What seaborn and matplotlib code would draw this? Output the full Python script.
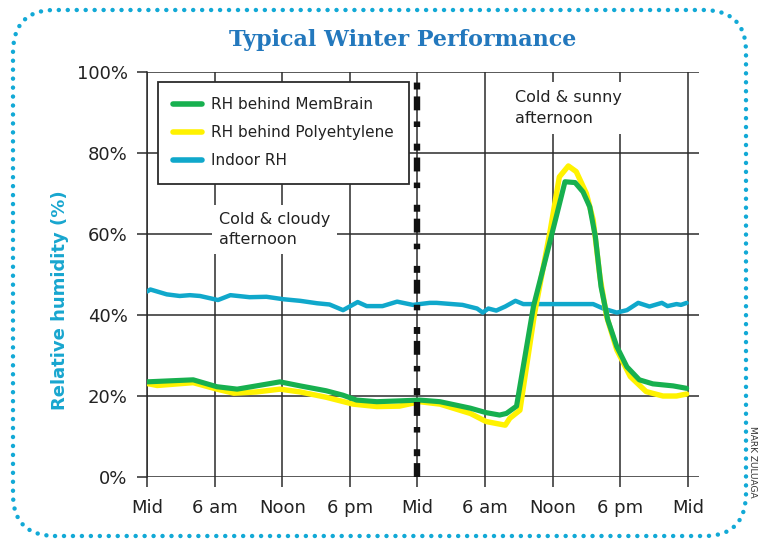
import numpy as np
import matplotlib.pyplot as plt
import pandas as pd
import seaborn as sb
from matplotlib.patches import FancyBboxPatch
from matplotlib.lines import Line2D

# hours from first midnight, relative humidity in %
indoor_h = [0, 0.3, 1.75, 2.9, 3.8, 4.7, 6.3, 7.4, 9.1, 10.6, 12.1, 13.6, 15.1, 16.2,
            17.4, 18.7, 19.5, 20.9, 22.2, 23.6, 25.1, 25.7, 28.0, 29.3, 29.8, 30.3,
            31.0, 31.8, 32.7, 33.4, 36.0, 39.6, 40.5, 41.7, 42.6, 43.6, 44.6, 45.7,
            46.2, 47.0, 47.4, 47.9]
indoor_rh = [45.8, 46.3, 45.1, 44.7, 44.9, 44.7, 43.7, 44.9, 44.4, 44.5, 43.9, 43.5,
             42.9, 42.6, 41.2, 43.2, 42.2, 42.2, 43.3, 42.5, 43.0, 43.0, 42.5, 41.6,
             40.6, 41.6, 41.1, 42.1, 43.5, 42.7, 42.7, 42.7, 41.6, 40.6, 41.2, 43.0,
             42.1, 43.0, 42.2, 42.7, 42.5, 43.0]

membrain_h = [0, 4.1, 6.2, 8.0, 9.7, 11.8, 13.6, 15.9, 17.4, 18.6, 20.4, 22.4, 24.2,
              26.0, 28.7, 30.1, 31.3, 31.9, 32.8, 34.3, 35.5, 36.4, 37.1, 38.0, 38.7,
              39.3, 39.8, 40.3, 40.9, 41.7, 42.6, 43.7, 44.9, 46.7, 47.9]
membrain_rh = [23.5, 24.0, 22.3, 21.7, 22.5, 23.5, 22.5, 21.3, 20.2, 19.0, 18.6, 18.8,
               19.0, 18.6, 17.0, 15.9, 15.3, 15.7, 17.5, 42.1, 55.2, 65.1, 72.9, 72.7,
               70.4, 66.7, 59.3, 47.0, 38.8, 32.2, 27.2, 24.0, 23.0, 22.5, 21.9]

poly_h = [0, 0.9, 4.1, 6.2, 7.7, 9.7, 11.8, 13.6, 15.9, 18.3, 20.4, 22.4, 24.2, 26.0,
          28.7, 30.1, 31.8, 32.2, 33.1, 34.4, 35.8, 36.6, 37.4, 38.1, 39.0, 39.6,
          40.2, 40.8, 41.7, 42.9, 44.3, 45.8, 47.0, 47.9]
poly_rh = [23.1, 22.6, 23.3, 21.7, 20.7, 21.0, 21.7, 21.0, 19.7, 18.0, 17.4, 17.5,
           18.6, 18.0, 15.7, 13.7, 12.8, 14.5, 16.5, 40.4, 61.0, 74.1, 76.8, 75.4,
           70.0, 63.5, 49.5, 39.6, 31.4, 24.8, 21.1, 20.0, 20.0, 20.5]

tick_hours = [0, 6, 12, 18, 24, 30, 36, 42, 48]
tick_names = ['Mid', '6 am', 'Noon', '6 pm', 'Mid', '6 am', 'Noon', '6 pm', 'Mid']
labels = ['RH behind MemBrain', 'RH behind Polyehtylene', 'Indoor RH']
colors = ['#17b04f', '#fff200', '#10a8cb']

sb.set_style('white')
plt.rcParams['font.family'] = ['DejaVu Sans']
plt.rcParams['lines.scale_dashes'] = False

fig = plt.figure(figsize=(7.59, 5.43), dpi=100)
ax = fig.add_axes([0.1937, 0.1215, 0.7273, 0.7459])

indoor = pd.DataFrame({'hour': indoor_h, 'rh': indoor_rh})
membrain = pd.DataFrame({'hour': membrain_h, 'rh': membrain_rh})
poly = pd.DataFrame({'hour': poly_h, 'rh': poly_rh})

sb.lineplot(x='hour', y='rh', data=indoor, color=colors[2], lw=3.2,
            sort=False, estimator=None, ax=ax, zorder=4)
sb.lineplot(x='hour', y='rh', data=poly, color=colors[1], lw=3.9,
            sort=False, estimator=None, ax=ax, zorder=5)
sb.lineplot(x='hour', y='rh', data=membrain, color=colors[0], lw=3.7,
            sort=False, estimator=None, ax=ax, zorder=6)

ax.axvline(24, color='#111111', lw=4.6, zorder=7,
           dashes=(10, 5, 5, 12, 4, 8))

ax.set_xlim(0, 49)
ax.set_ylim(0, 100)
ax.set_xticks(tick_hours)
ax.set_xticklabels(tick_names)
ax.set_yticks([0, 20, 40, 60, 80, 100])
ax.set_yticklabels(['0%', '20%', '40%', '60%', '80%', '100%'])
ax.grid(True, color='#2b2b2b', lw=1.1, zorder=1)
ax.set_axisbelow(True)
for s in ['top', 'right', 'bottom']:
    ax.spines[s].set_visible(False)
ax.spines['left'].set_color('#2b2b2b')
ax.spines['left'].set_linewidth(1.1)
ax.tick_params(axis='both', direction='out', length=7, width=1.1, color='#2b2b2b',
               labelsize=13, labelcolor='#222222', left=True, bottom=True)
ax.tick_params(axis='y', pad=7)
ax.tick_params(axis='x', pad=9)
ax.set_xlabel('')
ax.set_ylabel('')

ax.text(6.4, 65.5, 'Cold & cloudy\nafternoon', fontsize=11.5, color='#222222',
        va='top', ha='left', linespacing=1.45, zorder=3,
        bbox=dict(facecolor='white', edgecolor='none', pad=5))
ax.text(32.7, 95.5, 'Cold & sunny\nafternoon', fontsize=11.5, color='#222222',
        va='top', ha='left', linespacing=1.45, zorder=3,
        bbox=dict(facecolor='white', edgecolor='none', pad=6))

handles = [Line2D([], [], color=c, lw=4) for c in colors]
leg = ax.legend(handles, labels, loc='upper left', bbox_to_anchor=(0.02, 0.975),
                borderaxespad=0, fontsize=11, frameon=True, fancybox=False,
                framealpha=1, edgecolor='#2b2b2b', handlelength=1.9,
                handletextpad=0.55, labelspacing=0.85, borderpad=1.0)
leg.get_frame().set_linewidth(1.3)
leg.set_zorder(10)
for t in leg.get_texts():
    t.set_color('#222222')

fig.text(0.53, 0.926, 'Typical Winter Performance', fontsize=16, fontweight='bold',
         color='#2378bd', ha='center', va='center', family='DejaVu Serif')
fig.text(0.079, 0.447, 'Relative humidity (%)', fontsize=13, fontweight='bold',
         color='#18a6cf', rotation=90, ha='center', va='center')
fig.text(0.991, 0.15, 'MARK ZULUAGA', fontsize=6.5, rotation=-90,
         ha='center', va='center', color='#333333')

border = FancyBboxPatch((0.13, 0.07), 7.33, 5.26,
                        boxstyle='round,pad=0,rounding_size=0.42',
                        transform=fig.dpi_scale_trans, fill=False,
                        edgecolor='#12a9d6', linewidth=3.2,
                        linestyle=(0, (0.05, 6.4)), capstyle='round')
fig.add_artist(border)

plt.savefig('out.png', dpi=100)
